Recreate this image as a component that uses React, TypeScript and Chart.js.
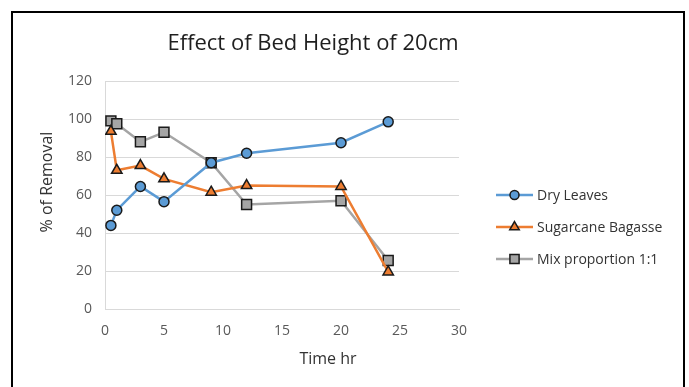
import React, { useEffect, useRef } from 'react';
import { Chart, registerables } from 'chart.js';
Chart.register(...registerables);

const chartTitle = 'Effect of Bed Height of 20cm';
const xTitle = 'Time hr';
const yTitle = '% of Removal';
const timeHr = [0.5, 1, 3, 5, 9, 12, 20, 24];
const dryLeaves = [44, 52, 64.5, 56.5, 77, 82, 87.5, 98.5];
const sugarcaneBagasse = [93.5, 73, 75.5, 68.5, 61.5, 65, 64.5, 19.5];
const mixProportion = [99, 97.5, 88, 93, 77, 55, 57, 25.5];
const seriesNames = ['Dry Leaves', 'Sugarcane Bagasse', 'Mix proportion 1:1'];
const seriesColors = ['#5B9BD5', '#ED7D31', '#A5A5A5'];
const seriesMarkers = ['circle', 'triangle', 'rect'];
const seriesRadius = [5, 6, 7];
const xMin = 0, xMax = 30, xStep = 5;
const yMin = 0, yMax = 120, yStep = 20;

const FONT = '"Open Sans", "Noto Sans", sans-serif';
const TEXT = '#333333';

function drawMarker(ctx: CanvasRenderingContext2D, style: string, x: number, y: number, r: number, fill: string) {
  ctx.save();
  ctx.beginPath();
  if (style === 'circle') {
    ctx.arc(x, y, r, 0, Math.PI * 2);
  } else if (style === 'triangle') {
    for (let i = 0; i < 3; i++) {
      const a = -Math.PI / 2 + (i * 2 * Math.PI) / 3;
      const px = x + r * Math.cos(a);
      const py = y + r * Math.sin(a);
      if (i === 0) ctx.moveTo(px, py); else ctx.lineTo(px, py);
    }
    ctx.closePath();
  } else {
    const s = Math.SQRT1_2 * r;
    ctx.rect(x - s, y - s, 2 * s, 2 * s);
  }
  ctx.fillStyle = fill;
  ctx.fill();
  ctx.lineWidth = 1.5;
  ctx.strokeStyle = '#1a1a1a';
  ctx.stroke();
  ctx.restore();
}

const textPlugin = {
  id: 'excelText',
  afterDraw(chart: any) {
    const ctx: CanvasRenderingContext2D = chart.ctx;
    const area = chart.chartArea;
    ctx.save();
    ctx.textAlign = 'center';
    ctx.textBaseline = 'middle';
    ctx.fillStyle = '#1f1f1f';
    ctx.font = `22px ${FONT}`;
    ctx.fillText(chartTitle, 313, 44);
    ctx.fillStyle = TEXT;
    ctx.font = `16px ${FONT}`;
    ctx.fillText(xTitle, 328, 359);
    ctx.save();
    ctx.translate(47, 182);
    ctx.rotate(-Math.PI / 2);
    ctx.fillText(yTitle, 0, 0);
    ctx.restore();

    // legend
    const lx0 = area.right + 37;
    const lx1 = lx0 + 37;
    const mid = (lx0 + lx1) / 2;
    const yMid = (area.top + area.bottom) / 2 + 32;
    ctx.font = `14px ${FONT}`;
    ctx.textAlign = 'left';
    chart.data.datasets.forEach((ds: any, i: number) => {
      const y = yMid + (i - 1) * 32;
      ctx.beginPath();
      ctx.moveTo(lx0, y);
      ctx.lineTo(lx1, y);
      ctx.strokeStyle = seriesColors[i];
      ctx.lineWidth = 2.5;
      ctx.stroke();
      drawMarker(ctx, seriesMarkers[i], mid, y, seriesRadius[i] - 0.5, seriesColors[i]);
      ctx.fillStyle = TEXT;
      ctx.fillText(ds.label, lx1 + 4, y + 1);
    });
    ctx.restore();
  },
};

export default function App() {
  const ref = useRef<HTMLCanvasElement | null>(null);
  useEffect(() => {
    document.body.style.margin = '0';
    const canvas = ref.current;
    if (!canvas) return;
    const seriesData = [dryLeaves, sugarcaneBagasse, mixProportion];
    const chart = new Chart(canvas, {
      type: 'line',
      data: {
        datasets: seriesData.map((vals, i) => ({
          label: seriesNames[i],
          data: timeHr.map((t, j) => ({ x: t, y: vals[j] })),
          borderColor: seriesColors[i],
          backgroundColor: seriesColors[i],
          borderWidth: 2.5,
          pointStyle: seriesMarkers[i] as any,
          pointRadius: seriesRadius[i],
          pointBackgroundColor: seriesColors[i],
          pointBorderColor: '#1a1a1a',
          pointBorderWidth: 1.5,
          tension: 0,
          fill: false,
        })),
      },
      options: {
        responsive: false,
        animation: false,
        devicePixelRatio: 1,
        layout: { padding: { top: 81, right: 230, left: 0, bottom: 0 } },
        plugins: {
          legend: { display: false },
          title: { display: false },
          tooltip: { enabled: false },
        },
        scales: {
          x: {
            type: 'linear',
            min: xMin,
            max: xMax,
            ticks: { stepSize: xStep, padding: 14, color: '#595959', font: { size: 14, family: FONT } },
            grid: { display: false, drawTicks: false },
            border: { display: true, color: '#d9d9d9', width: 1 },
            afterFit: (s: any) => { s.height = 78; },
          },
          y: {
            type: 'linear',
            min: yMin,
            max: yMax,
            ticks: { stepSize: yStep, padding: 13, color: '#595959', font: { size: 14, family: FONT } },
            grid: { color: '#d9d9d9', drawTicks: false, lineWidth: 1 },
            border: { display: true, color: '#d9d9d9', width: 1 },
            afterFit: (s: any) => { s.width = 105; },
          },
        },
      },
      plugins: [textPlugin],
    });
    return () => chart.destroy();
  }, []);

  return (
    <div style={{ position: 'relative', width: 689, height: 387, overflow: 'hidden', background: '#fff' }}>
      <canvas ref={ref} width={689} height={387} style={{ display: 'block', width: 689, height: 387 }} />
      <div
        style={{
          position: 'absolute',
          left: 11,
          top: 11,
          width: 674,
          height: 420,
          boxSizing: 'border-box',
          border: '2px solid #000',
          pointerEvents: 'none',
        }}
      />
    </div>
  );
}
